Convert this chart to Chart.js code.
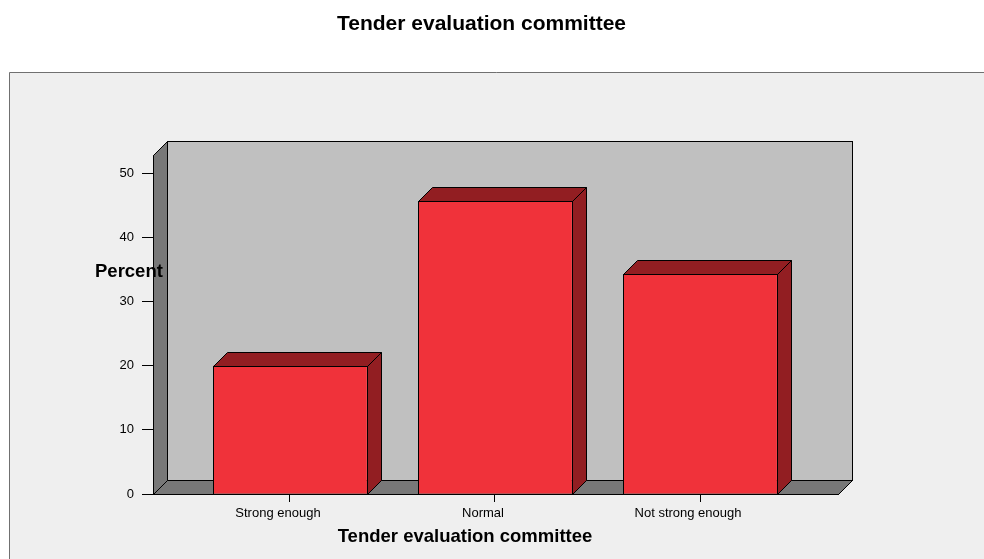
<!DOCTYPE html>
<html>
<head>
<meta charset="utf-8">
<script src="https://cdn.jsdelivr.net/npm/chart.js@4/dist/chart.umd.min.js"></script>
<style>
  html, body { margin: 0; padding: 0; background: #ffffff; }
  canvas { display: block; }
</style>
</head>
<body>
<canvas id="c" width="984" height="559"></canvas>
<script>
// ---- data ----
const categories = ["Strong enough", "Normal", "Not strong enough"];
const percentValues = [20.0, 45.7, 34.3];
const yTickValues = [0, 10, 20, 30, 40, 50];
const chartTitle = "Tender evaluation committee";
const xAxisTitle = "Tender evaluation committee";
const yAxisTitle = "Percent";

const FONT = '"Liberation Sans", Arial, Helvetica, sans-serif';
const DEPTH = 14;
const FRONT = '#F0323A';
const DARK = '#921E22';

const spss3d = {
  id: 'spss3d',
  beforeDraw(chart) {
    const ctx = chart.ctx;
    ctx.save();
    ctx.fillStyle = '#ffffff';
    ctx.fillRect(0, 0, chart.width, chart.height);
    ctx.fillStyle = '#EFEFEF';
    ctx.fillRect(9, 72, chart.width, chart.height);
    ctx.strokeStyle = '#707070';
    ctx.lineWidth = 1;
    ctx.beginPath();
    ctx.moveTo(9.5, chart.height);
    ctx.lineTo(9.5, 72.5);
    ctx.lineTo(chart.width, 72.5);
    ctx.stroke();
    ctx.restore();
  },
  beforeDatasetsDraw(chart) {
    const ctx = chart.ctx;
    const a = chart.chartArea;
    const d = DEPTH;
    const L = Math.round(a.left) + 0.5, R = Math.round(a.right) + 0.5;
    const T = Math.round(a.top) + 0.5, B = Math.round(a.bottom) + 0.5;
    ctx.save();
    ctx.lineWidth = 1;
    ctx.strokeStyle = '#000';
    // back wall
    ctx.fillStyle = '#C0C0C0';
    ctx.fillRect(L + d, T - d, R - L, B - T);
    ctx.strokeRect(L + d, T - d, R - L, B - T);
    // left wall
    ctx.fillStyle = '#787878';
    ctx.beginPath();
    ctx.moveTo(L, B); ctx.lineTo(L, T); ctx.lineTo(L + d, T - d); ctx.lineTo(L + d, B - d); ctx.closePath();
    ctx.fill(); ctx.stroke();
    // floor
    ctx.beginPath();
    ctx.moveTo(L, B); ctx.lineTo(L + d, B - d); ctx.lineTo(R + d, B - d); ctx.lineTo(R, B); ctx.closePath();
    ctx.fill(); ctx.stroke();
    ctx.restore();
  },
  afterDatasetsDraw(chart) {
    const ctx = chart.ctx;
    const d = DEPTH;
    const meta = chart.getDatasetMeta(0);
    ctx.save();
    ctx.lineWidth = 1;
    ctx.strokeStyle = '#000';
    ctx.fillStyle = DARK;
    meta.data.forEach(bar => {
      const p = bar.getProps(['x', 'y', 'base', 'width'], true);
      const l = Math.round(p.x - p.width / 2) + 0.5;
      const r = Math.round(p.x + p.width / 2) + 0.5;
      const t = Math.round(p.y) + 0.5;
      const b = Math.round(p.base) + 0.5;
      // top
      ctx.beginPath();
      ctx.moveTo(l, t); ctx.lineTo(l + d, t - d); ctx.lineTo(r + d, t - d); ctx.lineTo(r, t); ctx.closePath();
      ctx.fill(); ctx.stroke();
      // side
      ctx.beginPath();
      ctx.moveTo(r, t); ctx.lineTo(r + d, t - d); ctx.lineTo(r + d, b - d); ctx.lineTo(r, b); ctx.closePath();
      ctx.fill(); ctx.stroke();
      // front outline
      ctx.strokeRect(l, t, r - l, b - t);
    });
    // axis line at floor front
    const a = chart.chartArea;
    ctx.beginPath();
    ctx.moveTo(Math.round(a.left), Math.round(a.bottom) + 0.5);
    ctx.lineTo(Math.round(a.right) + 1, Math.round(a.bottom) + 0.5);
    ctx.stroke();
    // titles
    ctx.fillStyle = '#000';
    ctx.textBaseline = 'alphabetic';
    ctx.font = 'bold 21px ' + FONT;
    ctx.textAlign = 'center';
    ctx.fillText(chartTitle, 481.5, 30);
    ctx.font = 'bold 18.5px ' + FONT;
    ctx.fillText(xAxisTitle, 465, 542);
    ctx.textAlign = 'left';
    ctx.fillText(yAxisTitle, 95, 277);
    ctx.restore();
  }
};

new Chart(document.getElementById('c'), {
  type: 'bar',
  data: {
    datasets: [{
      data: categories.map((c, i) => ({ x: i, y: percentValues[i] })),
      backgroundColor: FRONT,
      borderWidth: 0,
      barPercentage: 0.75,
      categoryPercentage: 1.0
    }]
  },
  options: {
    responsive: false,
    animation: false,
    events: [],
    layout: { padding: { top: 155, right: 146, left: 0, bottom: 0 } },
    plugins: { legend: { display: false }, title: { display: false }, tooltip: { enabled: false } },
    scales: {
      x: {
        type: 'linear',
        offset: false,
        min: -0.668,
        max: 2.673,
        afterFit(scale) { scale.height = 65; },
        afterBuildTicks(scale) { scale.ticks = categories.map((c, i) => ({ value: i })); },
        ticks: {
          callback: (v) => categories[v] !== undefined ? categories[v] : '',
          font: { family: FONT, size: 13 },
          color: '#000',
          padding: 4,
          labelOffset: -12,
          maxRotation: 0,
          autoSkip: false
        },
        grid: { display: true, offset: false, drawOnChartArea: false, drawTicks: true, tickLength: 8, color: '#000' },
        border: { display: false }
      },
      y: {
        min: 0,
        max: 52.9,
        afterFit(scale) { scale.width = 153; },
        afterBuildTicks(scale) { scale.ticks = yTickValues.map(v => ({ value: v })); },
        ticks: {
          font: { family: FONT, size: 13 },
          color: '#000',
          padding: 8
        },
        grid: { display: true, drawOnChartArea: false, drawTicks: true, tickLength: 11, color: '#000' },
        border: { display: true, color: '#000' }
      }
    }
  },
  plugins: [spss3d]
});
</script>
</body>
</html>
